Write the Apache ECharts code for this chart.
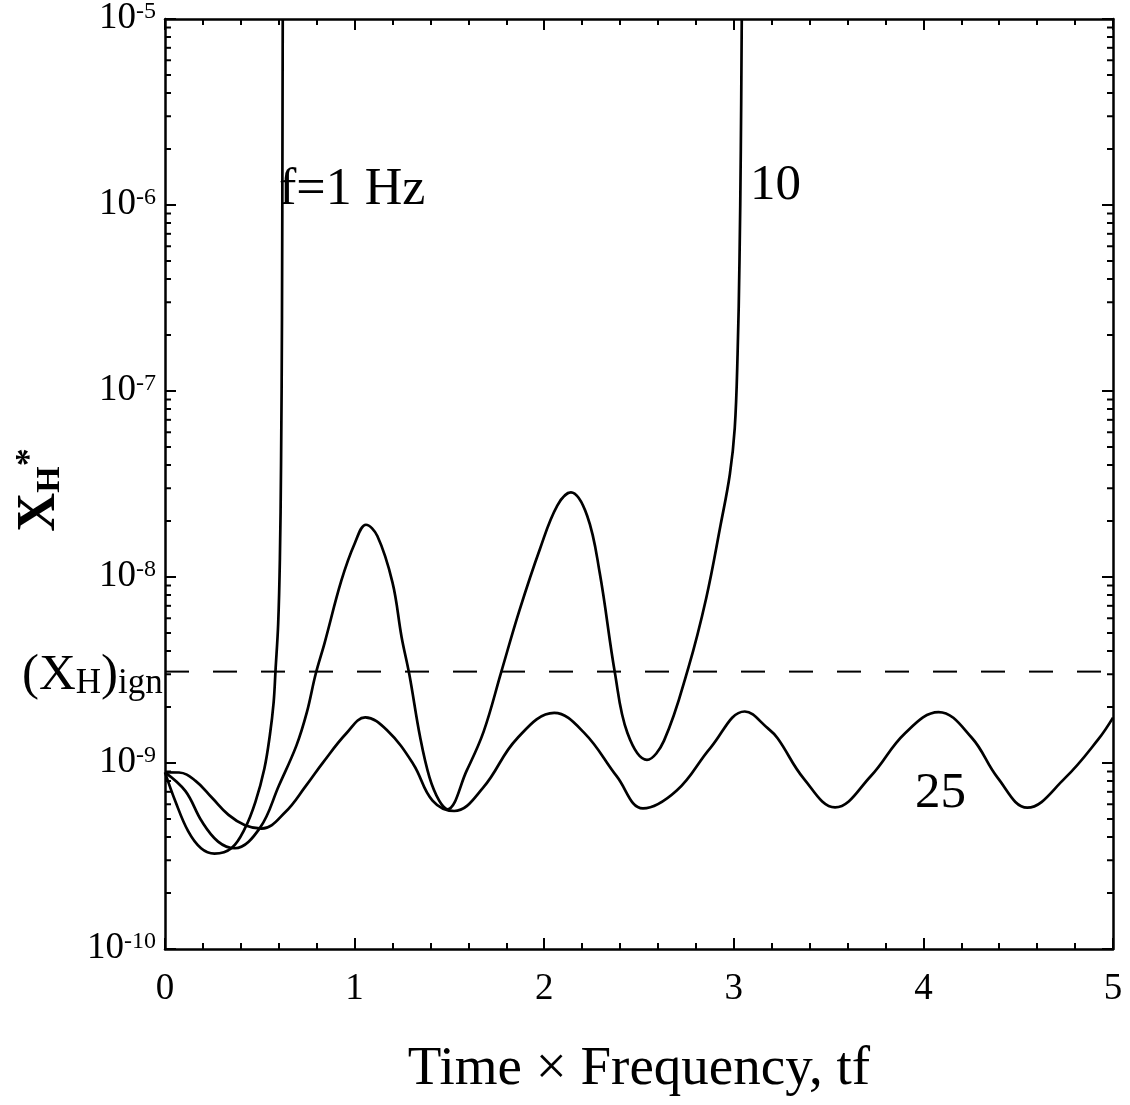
<!DOCTYPE html>
<html><head><meta charset="utf-8">
<script src="https://cdn.jsdelivr.net/npm/echarts@6/dist/echarts.min.js"></script>
<style>html,body{margin:0;padding:0;background:#fff}#c{width:1130px;height:1105px}</style>
</head><body><div id="c"></div>
<script>
// f = 1 Hz
const f1X = [0, 0.054, 0.122, 0.19, 0.261, 0.35, 0.422, 0.477, 0.524, 0.553, 0.573, 0.583, 0.597, 0.606, 0.612, 0.617, 0.621];
const f1Y = [8.91e-10, 6.25e-10, 4.30e-10, 3.48e-10, 3.26e-10, 3.48e-10, 4.46e-10, 6.18e-10, 9.31e-10, 1.41e-9, 2.12e-9, 3.16e-9, 5.62e-9, 1.26e-8, 3.98e-8, 2.51e-7, 1e-5];
// f = 10 Hz
const f10X = [0, 0.108, 0.194, 0.28, 0.368, 0.501, 0.601, 0.693, 0.748, 0.795, 0.842, 0.93, 1.0, 1.06, 1.12, 1.2, 1.248, 1.289, 1.346, 1.395, 1.446, 1.49, 1.59, 1.681, 1.774, 1.867, 1.978, 2.069, 2.141, 2.227, 2.293, 2.373, 2.439, 2.542, 2.632, 2.761, 2.855, 2.931, 2.979, 3.005, 3.02, 3.03, 3.037, 3.042];
const f10Y = [8.91e-10, 7.06e-10, 4.86e-10, 3.78e-10, 3.48e-10, 4.48e-10, 7.57e-10, 1.24e-9, 1.87e-9, 3.02e-9, 4.43e-9, 9.55e-9, 1.51e-8, 1.91e-8, 1.66e-8, 9.33e-9, 4.75e-9, 2.98e-9, 1.37e-9, 8.37e-10, 6.27e-10, 5.64e-10, 9.04e-10, 1.48e-9, 3.10e-9, 6.50e-9, 1.42e-8, 2.42e-8, 2.85e-8, 2.13e-8, 1.05e-8, 3.05e-9, 1.45e-9, 1.04e-9, 1.32e-9, 3.27e-9, 7.74e-9, 1.92e-8, 3.56e-8, 6.31e-8, 1.58e-7, 5.01e-7, 2.0e-6, 1e-5];
// f = 25 Hz
const f25X = [0, 0.074, 0.161, 0.248, 0.335, 0.422, 0.51, 0.635, 0.743, 0.833, 0.958, 1.056, 1.17, 1.309, 1.411, 1.525, 1.677, 1.857, 2.053, 2.21, 2.383, 2.521, 2.699, 2.878, 3.058, 3.18, 3.232, 3.37, 3.534, 3.722, 3.902, 4.08, 4.254, 4.392, 4.548, 4.744, 4.923, 5.0];
const f25Y = [8.91e-10, 8.89e-10, 8.02e-10, 6.50e-10, 5.26e-10, 4.63e-10, 4.44e-10, 5.45e-10, 7.53e-10, 1.005e-9, 1.449e-9, 1.758e-9, 1.503e-9, 9.89e-10, 6.28e-10, 5.52e-10, 7.35e-10, 1.355e-9, 1.858e-9, 1.456e-9, 8.47e-10, 5.70e-10, 7.11e-10, 1.211e-9, 1.892e-9, 1.535e-9, 1.355e-9, 8.22e-10, 5.77e-10, 8.49e-10, 1.442e-9, 1.879e-9, 1.371e-9, 8.32e-10, 5.75e-10, 8.24e-10, 1.343e-9, 1.754e-9];
// ignition threshold (dashed)
const ignX = [0, 5];
const ignY = [3.1e-9, 3.1e-9];
// axis ranges / ticks
const xMin = 0, xMax = 5, xStep = 1;
const yMin = 1e-10, yMax = 1e-5;
const yDecades = [1e-10, 1e-9, 1e-8, 1e-7, 1e-6];
const yMinorMult = [2, 3, 4, 5, 6, 7, 8, 9];
const curveLabels = ['f=1 Hz', '10', '25'];

const FONT = 'Liberation Serif';
const yMinor = [];
yDecades.forEach(d => yMinorMult.forEach(m => yMinor.push(m * d)));
const pairs = (xs, ys) => xs.map((x, i) => [x, ys[i]]);

const chart = echarts.init(document.getElementById('c'), null, {renderer: 'canvas'});
const lineStyle = {color: '#000', width: 2.7};
const axisLine = {show: true, onZero: false, lineStyle: {color: '#000', width: 2.5}};
const majorTick = {inside: true, length: 11, lineStyle: {color: '#000', width: 2}};
const minorTick = {show: true, splitNumber: 5, length: 6, lineStyle: {color: '#000', width: 2}};
chart.setOption({
  animation: false,
  backgroundColor: '#fff',
  grid: {left: 165, right: 17, top: 18, bottom: 156},
  xAxis: [
    {type: 'value', min: xMin, max: xMax, interval: xStep, position: 'bottom',
     name: 'Time × Frequency, tf', nameLocation: 'middle', nameGap: 93,
     nameTextStyle: {fontFamily: FONT, fontSize: 55, color: '#000'},
     axisLine, axisTick: majorTick, minorTick, splitLine: {show: false},
     axisLabel: {fontFamily: FONT, fontSize: 37, color: '#000', margin: 22}},
    {type: 'value', min: xMin, max: xMax, interval: xStep, position: 'top',
     axisLine, axisTick: majorTick, minorTick, splitLine: {show: false},
     axisLabel: {show: false}}
  ],
  yAxis: [
    {type: 'log', logBase: 10, min: yMin, max: yMax, position: 'left',
     axisLine, axisTick: majorTick, splitLine: {show: false},
     axisLabel: {
       margin: 9, color: '#000',
       formatter: v => '{b|10}{s|' + Math.round(Math.log10(v)) + '}',
       rich: {
         b: {fontFamily: FONT, fontSize: 37, lineHeight: 38, verticalAlign: 'top', color: '#000'},
         s: {fontFamily: FONT, fontSize: 24, lineHeight: 22, verticalAlign: 'top', color: '#000'}
       }
     }},
    {type: 'log', logBase: 10, min: yMin, max: yMax, position: 'right',
     axisLine, axisTick: majorTick, splitLine: {show: false},
     axisLabel: {show: false}}
  ],
  series: [
    {type: 'line', name: curveLabels[0], data: pairs(f1X, f1Y), smooth: 0.38, showSymbol: false, lineStyle, xAxisIndex: 0, yAxisIndex: 0},
    {type: 'line', name: curveLabels[1], data: pairs(f10X, f10Y), smooth: 0.38, showSymbol: false, lineStyle, xAxisIndex: 0, yAxisIndex: 0},
    {type: 'line', name: curveLabels[2], data: pairs(f25X, f25Y), smooth: 0.4, showSymbol: false, lineStyle, xAxisIndex: 0, yAxisIndex: 0},
    {type: 'line', name: 'ign', data: pairs(ignX, ignY), showSymbol: false,
     lineStyle: {color: '#000', width: 2, type: [24, 24]}, xAxisIndex: 0, yAxisIndex: 0},
    {type: 'custom', name: 'yMinorTicks', xAxisIndex: 0, yAxisIndex: 0,
     data: yMinor.map(v => [xMin, v]), encode: {x: 0, y: 1}, clip: false,
     renderItem: (params, api) => {
       const v = api.value(1);
       const pL = api.coord([xMin, v]);
       const pR = api.coord([xMax, v]);
       return {type: 'group', children: [
         {type: 'line', shape: {x1: pL[0], y1: pL[1], x2: pL[0] + 6, y2: pL[1]}, style: {stroke: '#000', lineWidth: 2}},
         {type: 'line', shape: {x1: pR[0], y1: pR[1], x2: pR[0] - 6, y2: pR[1]}, style: {stroke: '#000', lineWidth: 2}}
       ]};
     }}
  ],
  graphic: [
    {type: 'text', left: 279, top: 164, style: {text: curveLabels[0], font: '52px "Liberation Serif"', fill: '#000'}},
    {type: 'text', left: 750, top: 160, style: {text: curveLabels[1], font: '51px "Liberation Serif"', fill: '#000'}},
    {type: 'text', left: 915, top: 768, style: {text: curveLabels[2], font: '51px "Liberation Serif"', fill: '#000'}},
    {type: 'text', x: 22, y: 676, style: {
      text: '{b|(X}{s|H}{b|)}{s|ign}', verticalAlign: 'middle', align: 'left',
      rich: {
        b: {fontFamily: FONT, fontSize: 51, lineHeight: 50, verticalAlign: 'bottom', fill: '#000'},
        s: {fontFamily: FONT, fontSize: 35, lineHeight: 14, verticalAlign: 'bottom', fill: '#000'}
      }}},
    {type: 'text', x: 40, y: 490, rotation: Math.PI / 2, style: {
      text: '{x|X}{h|H}{a|*}', align: 'center', verticalAlign: 'middle',
      rich: {
        x: {fontFamily: FONT, fontWeight: 'bold', fontSize: 54, lineHeight: 54, verticalAlign: 'bottom', fill: '#000'},
        h: {fontFamily: FONT, fontWeight: 'bold', fontSize: 34, lineHeight: 20, verticalAlign: 'bottom', fill: '#000'},
        a: {fontFamily: FONT, fontWeight: 'bold', fontSize: 36, lineHeight: 36, verticalAlign: 'top', fill: '#000'}
      }}}
  ]
});
</script>
</body></html>
